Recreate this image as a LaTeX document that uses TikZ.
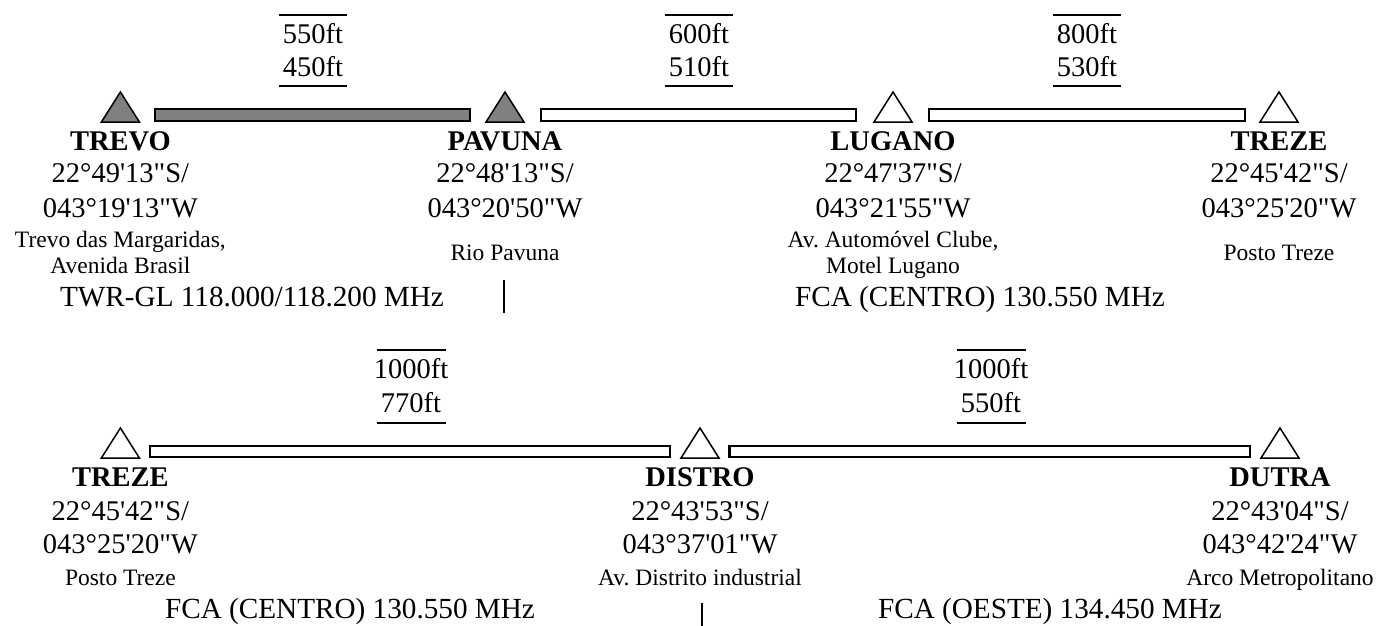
\documentclass[tikz,border=0pt]{standalone}
\usepackage{fontspec}
\setmainfont{Liberation Serif}[Ligatures=TeXOff]
\frenchspacing
\begin{document}
\begin{tikzpicture}[x=1pt,y=-1pt,
  nm/.style={anchor=base,inner sep=0pt,font=\fontsize{28.5}{30}\selectfont\bfseries},
  crd/.style={anchor=base,inner sep=0pt,font=\fontsize{28.5}{30}\selectfont},
  dsc/.style={anchor=base,inner sep=0pt,font=\fontsize{23.5}{25}\selectfont},
  alt/.style={anchor=base,inner sep=0pt,font=\fontsize{28.5}{30}\selectfont},
  frq/.style={anchor=base,inner sep=0pt,font=\fontsize{29.2}{31}\selectfont},
  trig/.style={draw=black,line width=1.5pt,fill=black!50,line join=miter},
  triw/.style={draw=black,line width=1.5pt,fill=white,line join=miter},
  barg/.style={draw=black,line width=2.2pt,fill=black!50},
  barw/.style={draw=black,line width=2.2pt,fill=white},
  rule/.style={draw=black,line width=2pt},
  divider/.style={draw=black,line width=2pt}]
\useasboundingbox[fill=white] (0,0) rectangle (1378,626);

% ---------- top row ----------
\coordinate (tA) at (120.4,92);
\coordinate (tB) at (505,92);
\coordinate (tC) at (893,92);
\coordinate (tD) at (1279,92);
\draw[trig] (tA) -- ++(19,30) -- ++(-38,0) -- cycle;
\draw[trig] (tB) -- ++(19,30) -- ++(-38,0) -- cycle;
\draw[triw] (tC) -- ++(19,30) -- ++(-38,0) -- cycle;
\draw[triw] (tD) -- ++(19,30) -- ++(-38,0) -- cycle;
\draw[barg] (154.6,109) rectangle (470,121);
\draw[barw] (541,109) rectangle (856,121);
\draw[barw] (929,109) rectangle (1245,121);
\foreach \cx/\hi/\lo [count=\i] in {313/550/450,699/600/510,1087/800/530}{
  \draw[rule] (\cx-34,15) -- (\cx+34,15);
  \draw[rule] (\cx-34,86) -- (\cx+34,86);
  \node[alt] (hiT\i) at (\cx,43.3) {\hi ft};
  \node[alt] (loT\i) at (\cx,76.7) {\lo ft};
}
\node[nm]  (trevo) at (120.4,150) {TREVO};
\node[crd] (trevoA) at (120.4,182) {22°49'13"S/};
\node[crd] (trevoB) at (120.4,217) {043°19'13"W};
\node[dsc] (trevoC) at (120.4,247) {Trevo das Margaridas,};
\node[dsc] (trevoD) at (120.4,273) {Avenida Brasil};

\node[nm]  (pavuna) at (505,150) {PAVUNA};
\node[crd] (pavunaA) at (505,182) {22°48'13"S/};
\node[crd] (pavunaB) at (505,217) {043°20'50"W};
\node[dsc] (pavunaC) at (505,260) {Rio Pavuna};

\node[nm]  (lugano) at (893,150) {LUGANO};
\node[crd] (luganoA) at (893,182) {22°47'37"S/};
\node[crd] (luganoB) at (893,217) {043°21'55"W};
\node[dsc] (luganoC) at (893,247) {Av. Automóvel Clube,};
\node[dsc] (luganoD) at (893,273) {Motel Lugano};

\node[nm]  (treze) at (1279,150) {TREZE};
\node[crd] (trezeA) at (1279,182) {22°45'42"S/};
\node[crd] (trezeB) at (1279,217) {043°25'20"W};
\node[dsc] (trezeC) at (1279,260) {Posto Treze};

\node[frq] (f1) at (252,306) {TWR-GL 118.000/118.200 MHz};
\node[frq] (f2) at (980,306.5) {FCA (CENTRO) 130.550 MHz};
\coordinate (d1a) at (504,280);
\coordinate (d1b) at (504,313);
\draw[divider] (d1a) -- (d1b);

% ---------- bottom row ----------
\coordinate (bA) at (120.4,428);
\coordinate (bB) at (700,428);
\coordinate (bC) at (1280,428);
\draw[triw] (bA) -- ++(19,30) -- ++(-38,0) -- cycle;
\draw[triw] (bB) -- ++(19,30) -- ++(-38,0) -- cycle;
\draw[triw] (bC) -- ++(19,30) -- ++(-38,0) -- cycle;
\draw[barw] (150,446) rectangle (670,457);
\draw[barw] (729.5,446) rectangle (1250,457);
\foreach \cx/\hi/\lo [count=\i] in {411/1000/770,991/1000/550}{
  \draw[rule] (\cx-34.5,350) -- (\cx+34.5,350);
  \draw[rule] (\cx-34.5,422.7) -- (\cx+34.5,422.7);
  \node[alt] (hiB\i) at (\cx,378) {\hi ft};
  \node[alt] (loB\i) at (\cx,412.7) {\lo ft};
}
\node[nm]  (treze2) at (120.4,486.7) {TREZE};
\node[crd] (treze2A) at (120.4,520) {22°45'42"S/};
\node[crd] (treze2B) at (120.4,553) {043°25'20"W};
\node[dsc] (treze2C) at (120.4,585) {Posto Treze};

\node[nm]  (distro) at (700,486.7) {DISTRO};
\node[crd] (distroA) at (700,520) {22°43'53"S/};
\node[crd] (distroB) at (700,553) {043°37'01"W};
\node[dsc] (distroC) at (700,585) {Av. Distrito industrial};

\node[nm]  (dutra) at (1280,486.7) {DUTRA};
\node[crd] (dutraA) at (1280,520) {22°43'04"S/};
\node[crd] (dutraB) at (1280,553) {043°42'24"W};
\node[dsc] (dutraC) at (1280,585) {Arco Metropolitano};

\node[frq] (f3) at (350,618) {FCA (CENTRO) 130.550 MHz};
\node[frq] (f4) at (1050,618) {FCA (OESTE) 134.450 MHz};
\coordinate (d2a) at (701.5,603);
\coordinate (d2b) at (701.5,626);
\draw[divider] (d2a) -- (d2b);
\end{tikzpicture}
\end{document}
